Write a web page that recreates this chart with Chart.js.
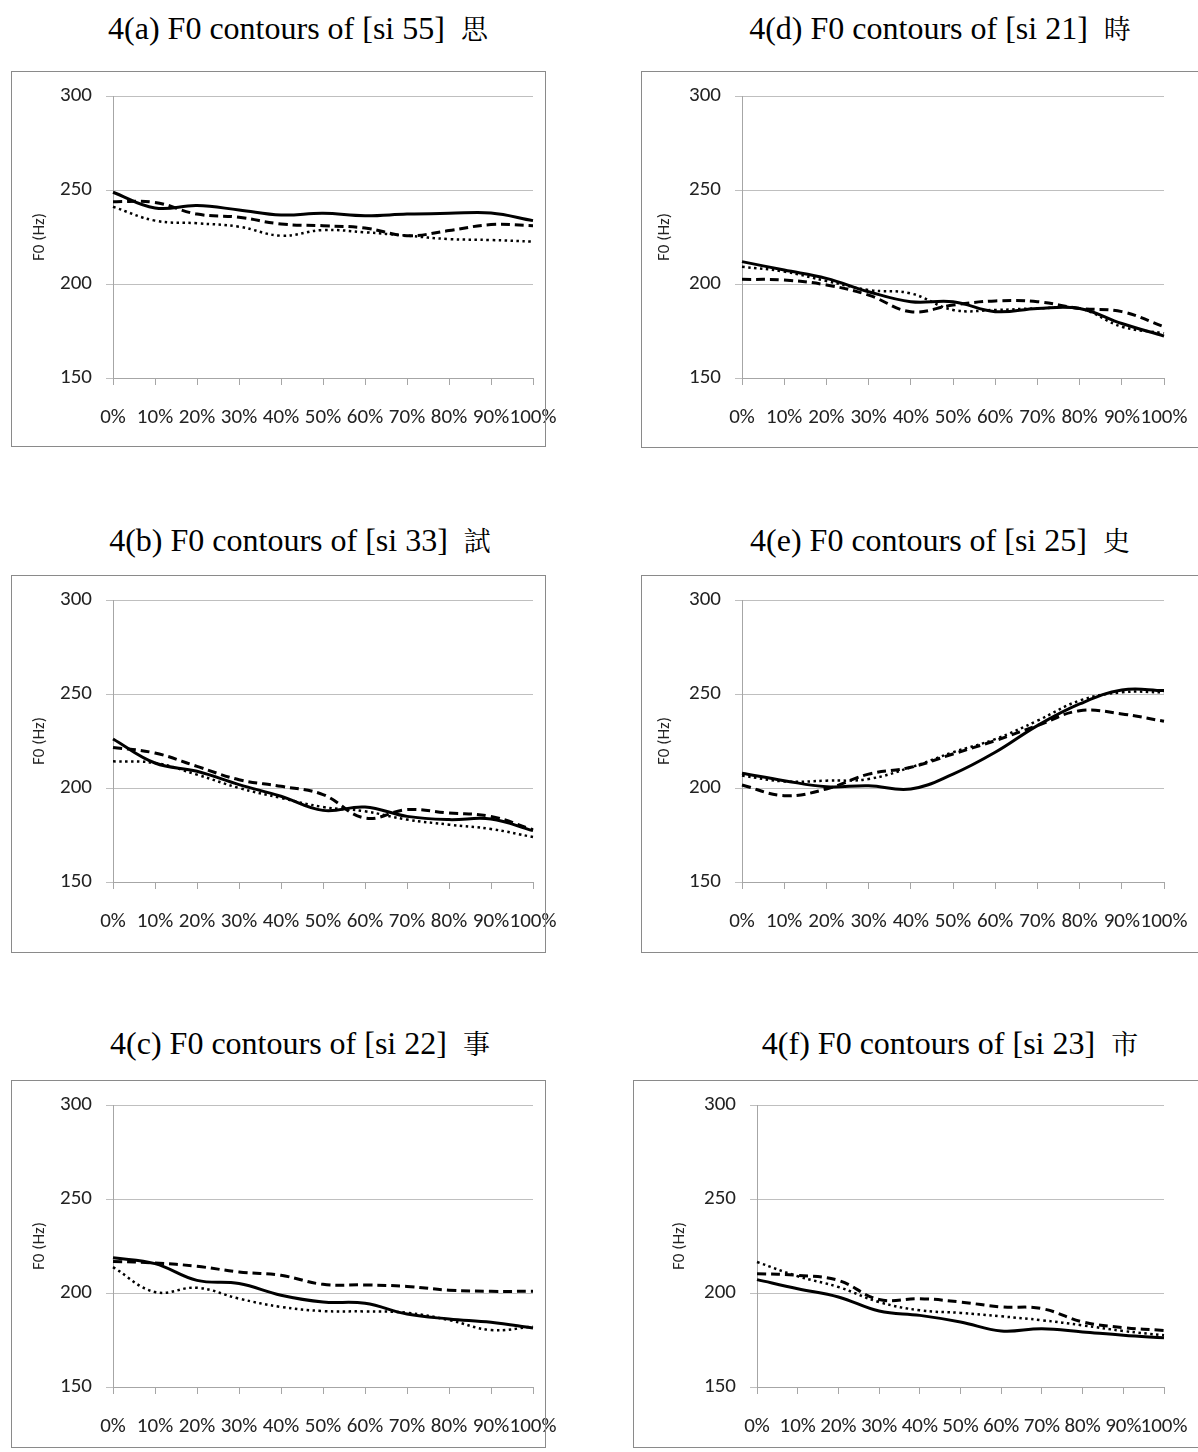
<!DOCTYPE html>
<html>
<head>
<meta charset="utf-8">
<script src="https://cdn.jsdelivr.net/npm/chart.js@4.4.1/dist/chart.umd.min.js"></script>
<style>
  html, body { margin:0; padding:0; background:#fff; width:1198px; height:1452px; overflow:hidden; position:relative; }
  .ttl { position:absolute; font-family:'Liberation Serif','Times New Roman',serif; font-size:32px; color:#000; white-space:nowrap; transform:translate(-50%,-50%); line-height:1; }
  .ttl .cjk { font-family:'Noto Serif CJK TC','Noto Sans CJK TC',serif; font-size:27px; }
  canvas { position:absolute; }
  .box { position:absolute; border:1px solid #8a8a8a; box-sizing:border-box; pointer-events:none; }
</style>
</head>
<body>
<script>
// ---------- data ----------
const categories = ['0%','10%','20%','30%','40%','50%','60%','70%','80%','90%','100%'];
const yMin = 150, yMax = 300, yStep = 50;
const yAxisLabel = 'F0 (Hz)';

const titles = [
  '4(a) F0 contours of [si 55]', '4(d) F0 contours of [si 21]',
  '4(b) F0 contours of [si 33]', '4(e) F0 contours of [si 25]',
  '4(c) F0 contours of [si 22]', '4(f) F0 contours of [si 23]'
];
const titleChars = ['思','時','試','史','事','市'];

// 4(a) [si 55] 思
const a_solid  = [248.8, 240.4, 241.7, 239.4, 236.7, 237.6, 236.3, 237.2, 237.6, 237.8, 233.7];
const a_dashed = [243.8, 243.4, 237.2, 235.5, 231.9, 231.0, 229.8, 225.7, 228.4, 231.6, 231.0];
const a_dotted = [241.1, 233.7, 232.3, 230.5, 225.7, 228.7, 227.5, 225.7, 223.9, 223.4, 222.5];
// 4(d) [si 21] 時
const d_solid  = [211.9, 207.4, 203.0, 195.9, 190.6, 190.6, 185.3, 187.0, 187.0, 179.0, 172.3];
const d_dashed = [202.5, 202.1, 199.5, 194.1, 185.3, 188.8, 191.0, 190.6, 187.0, 185.3, 177.3];
const d_dotted = [209.2, 206.6, 201.6, 196.8, 195.0, 186.2, 186.2, 187.0, 187.0, 177.3, 173.8];
// 4(b) [si 33] 試
const b_solid  = [226.1, 213.3, 208.9, 201.8, 195.6, 188.1, 189.9, 184.9, 183.2, 183.5, 177.3];
const b_dashed = [221.6, 218.6, 211.5, 204.4, 200.9, 196.5, 184.0, 188.5, 186.7, 184.9, 177.8];
const b_dotted = [214.2, 213.3, 207.1, 200.0, 194.7, 189.9, 187.6, 183.2, 180.5, 178.2, 173.9];
// 4(e) [si 25] 史
const e_solid  = [207.8, 203.9, 200.7, 201.2, 199.5, 207.4, 219.0, 233.2, 244.7, 252.1, 251.8];
const e_dashed = [201.6, 195.9, 199.5, 207.4, 211.0, 218.1, 225.2, 233.2, 241.1, 239.4, 235.5];
const e_dotted = [206.6, 203.5, 203.9, 204.8, 211.0, 219.0, 226.0, 235.8, 246.5, 250.9, 250.9];
// 4(c) [si 22] 事
const c_solid  = [218.8, 215.6, 206.7, 205.0, 198.8, 195.2, 194.5, 188.8, 186.2, 184.4, 181.4];
const c_dashed = [216.8, 216.0, 214.2, 211.2, 209.4, 204.6, 204.3, 203.5, 201.5, 200.9, 200.9];
const c_dotted = [213.8, 200.5, 202.8, 197.0, 192.6, 190.4, 190.2, 189.5, 185.6, 180.3, 182.1];
// 4(f) [si 23] 市
const f_solid  = [207.1, 202.3, 197.9, 190.4, 188.1, 184.6, 179.8, 181.0, 179.3, 177.5, 176.2];
const f_dashed = [210.3, 209.4, 206.7, 196.5, 197.0, 195.2, 192.6, 191.7, 184.6, 181.6, 180.1];
const f_dotted = [216.5, 208.9, 203.2, 195.2, 190.8, 189.4, 187.6, 185.5, 182.8, 179.8, 177.5];

const seriesSets = [
  [a_solid, a_dashed, a_dotted], [d_solid, d_dashed, d_dotted],
  [b_solid, b_dashed, b_dotted], [e_solid, e_dashed, e_dotted],
  [c_solid, c_dashed, c_dotted], [f_solid, f_dashed, f_dotted]
];

// ---------- layout (page px) ----------
const panels = [
  {box:[11,71,546,447],  plot:[113,96,533,378],  t:[298,28],  yt:40,  cx:0,   cw:600},
  {box:[641,71,1260,448],plot:[742,96,1164,378], t:[940,28],  yt:665, cx:600, cw:598},
  {box:[11,575,546,953], plot:[113,600,533,882], t:[300,540], yt:40,  cx:0,   cw:600},
  {box:[641,575,1260,953],plot:[742,600,1164,882],t:[940,540],yt:665, cx:600, cw:598},
  {box:[11,1080,546,1448],plot:[113,1105,533,1387],t:[300,1043],yt:40, cx:0, cw:600},
  {box:[633,1080,1260,1448],plot:[757,1105,1164,1387],t:[950,1043],yt:680, cx:600, cw:598}
];

const tickFont = {family:"'Carlito','Liberation Sans Narrow','Open Sans',sans-serif", size:21};
const gridColor = '#bfbfbf';
const axisColor = '#a6a6a6';

panels.forEach((p, i) => {
  const t = document.createElement('div');
  t.className = 'ttl';
  t.style.left = p.t[0] + 'px';
  t.style.top = p.t[1] + 'px';
  t.innerHTML = titles[i] + '&nbsp;&nbsp;<span class="cjk">' + titleChars[i] + '</span>';
  document.body.appendChild(t);

  const cy = p.box[1] + 1, ch = p.box[3] - p.box[1] - 2;
  const cv = document.createElement('canvas');
  cv.width = p.cw; cv.height = ch;
  cv.style.left = p.cx + 'px'; cv.style.top = cy + 'px';
  cv.style.width = p.cw + 'px'; cv.style.height = ch + 'px';
  document.body.appendChild(cv);

  const box = document.createElement('div');
  box.className = 'box';
  box.style.left = p.box[0] + 'px'; box.style.top = p.box[1] + 'px';
  box.style.width = (p.box[2] - p.box[0]) + 'px'; box.style.height = (p.box[3] - p.box[1]) + 'px';
  document.body.appendChild(box);

  const [L, T, R, B] = p.plot;
  const yW = L - p.cx;
  const xH = 50;
  const padTop = T - cy;
  const padRight = p.cx + p.cw - R;
  const padBottom = cy + ch - B - xH;
  const titleFontSize = 17;
  const titleLH = titleFontSize * 1.2;

  const [s, d, o] = seriesSets[i];
  new Chart(cv, {
    type: 'line',
    data: {
      labels: categories,
      datasets: [
        {data: s, borderColor:'#000', borderWidth:3, tension:0.4, pointRadius:0, fill:false},
        {data: d, borderColor:'#000', borderWidth:3, borderDash:[9,5], tension:0.4, pointRadius:0, fill:false},
        {data: o, borderColor:'#000', borderWidth:2.5, borderDash:[2.5,3.5], tension:0.4, pointRadius:0, fill:false}
      ]
    },
    options: {
      responsive:false, animation:false, devicePixelRatio:1,
      layout:{padding:{left:0, right:padRight, top:padTop, bottom:padBottom}},
      plugins:{legend:{display:false}, tooltip:{enabled:false}, title:{display:false}},
      scales:{
        x:{
          type:'category', offset:false,
          grid:{display:true, drawOnChartArea:false, drawTicks:true, tickLength:7, color:axisColor},
          border:{display:true, color:axisColor, width:1},
          ticks:{autoSkip:false, maxRotation:0, minRotation:0, padding:20, color:'#222', font:tickFont},
          afterFit:(sc)=>{ sc.height = xH; sc.paddingLeft = 0; sc.paddingRight = 0; }
        },
        y:{
          min:yMin, max:yMax,
          grid:{color:gridColor, tickLength:7, drawTicks:true},
          border:{display:true, color:axisColor, width:1},
          ticks:{stepSize:yStep, padding:14, color:'#222', font:tickFont},
          title:{display:true, text:yAxisLabel, color:'#222',
                 font:{family:"'Carlito','Liberation Sans Narrow','Open Sans',sans-serif", size:titleFontSize, lineHeight:1.2},
                 padding:{top:(p.yt - p.cx) - titleLH/2, bottom:0}},
          afterFit:(sc)=>{ sc.width = yW; sc.paddingTop = 0; sc.paddingBottom = 0; }
        }
      }
    }
  });
});
</script>
</body>
</html>
